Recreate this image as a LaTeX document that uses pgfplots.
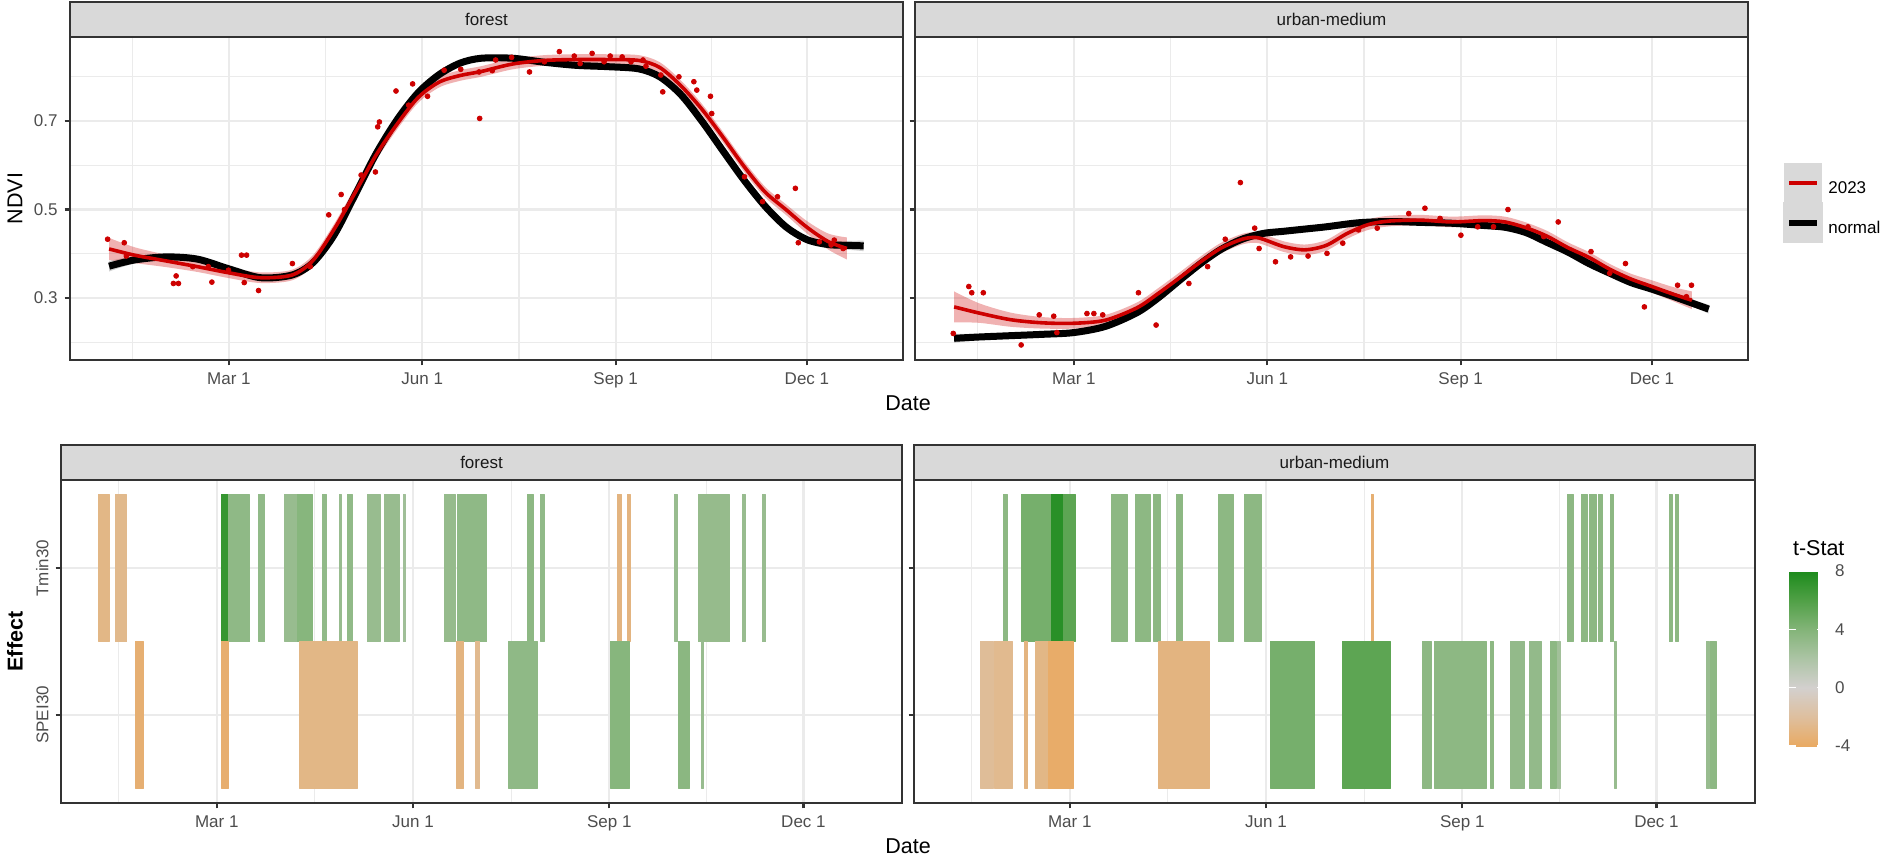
\documentclass[border=0pt]{standalone}
\usepackage{pgfplots}
\pgfplotsset{compat=1.18}
\usepgfplotslibrary{fillbetween}
\usepackage{pgfplotstable}
\usepackage{fontspec}
\setmainfont{Liberation Sans}
\definecolor{gg20}{RGB}{51,51,51}
\definecolor{gg30}{RGB}{77,77,77}
\definecolor{gg92}{RGB}{235,235,235}
\definecolor{gg85}{RGB}{217,217,217}
\definecolor{gg10}{RGB}{26,26,26}
\definecolor{ggred}{RGB}{205,0,0}
\newcommand{\tickfont}{\fontsize{8.5}{10}\selectfont}
\newcommand{\titlefont}{\fontsize{10.75}{12}\selectfont}

\pgfplotsset{
  colormap={tstat}{rgb255(0)=(233,170,99) rgb255(2)=(222,191,158) rgb255(4)=(211,208,206) rgb255(6)=(172,196,165) rgb255(8)=(131,180,120) rgb255(10)=(80,160,70) rgb255(12)=(28,139,28)},
  gg/.style={
    scale only axis, clip=false,
    axis line style={draw=gg20, line width=1.1pt},
    grid=both,
    major grid style={draw=gg92, line width=1.1pt},
    minor grid style={draw=gg92, line width=0.55pt},
    tick pos=left, tick align=outside,
    major tick style={draw=gg20, line width=1.1pt},
    major tick length=2.7pt, minor tick length=0pt,
    tick label style={font=\tickfont, text=gg30},
    xtick={60,152,244,335}, xticklabels={Mar 1,Jun 1,Sep 1,Dec 1},
    minor xtick={14,106,198,289.5},
  },
  ggtop/.style={gg, width=416.5pt, height=161.5pt, xmin=-15.6, xmax=380.7, ymin=0.16, ymax=0.89,
    ytick={0.3,0.5,0.7}, yticklabels={0.3,0.5,0.7}, minor ytick={0.2,0.4,0.6,0.8}},
  ggbot/.style={gg, width=420.5pt, height=161.5pt, xmin=-13, xmax=381.2, ymin=0.4, ymax=2.6,
    ytick={1,2}, yticklabels={SPEI30,Tmin30}, yticklabel style={rotate=90, anchor=south},
    colormap name=tstat, point meta min=-4, point meta max=8},
  tiles/.style={patch, patch type=rectangle, shader=flat corner, point meta=\thisrow{t}, forget plot},
}

% ---------- top panels: fitted curves (d = day of year, v = fit, s = half ribbon) ----------
\pgfplotstableread{
d v s
3 .372 .012
15 .386 .008
30 .393 .006
45 .388 .006
60 .366 .006
75 .346 .006
90 .352 .006
100 .380 .006
110 .442 .006
120 .533 .006
130 .626 .006
140 .703 .006
150 .764 .006
160 .805 .006
170 .831 .006
180 .842 .006
195 .842 .006
210 .833 .006
225 .826 .006
240 .823 .006
255 .818 .006
265 .800 .006
275 .760 .006
285 .700 .006
295 .633 .006
305 .567 .006
315 .508 .006
325 .461 .006
335 .432 .006
345 .421 .008
355 .419 .010
362 .418 .012
}\forestN
\pgfplotstableread{
d v s
3 .411 .025
15 .397 .018
30 .384 .014
45 .371 .012
60 .357 .012
75 .346 .012
90 .352 .012
100 .385 .012
110 .455 .012
120 .538 .012
130 .623 .012
140 .693 .012
150 .753 .012
160 .788 .012
170 .803 .012
180 .812 .012
195 .829 .012
210 .837 .012
225 .839 .012
240 .839 .012
255 .837 .012
265 .821 .012
275 .780 .012
285 .727 .012
295 .664 .012
305 .598 .012
315 .540 .012
325 .500 .012
335 .460 .014
345 .428 .018
354 .412 .025
}\forestR
\pgfplotstableread{
d v
2.3 .433
10.2 .425
11.2 .395
34.9 .350
33.6 .333
36 .333
42.8 .371
50.2 .371
51.9 .336
59.8 .363
66 .397
68.4 .397
67.3 .335
74.1 .317
90.2 .378
98.7 .371
107.5 .488
113.4 .534
115 .500
122.9 .578
129.7 .585
130.8 .687
131.6 .698
139.5 .768
145.5 .736
147.4 .784
154.5 .756
162.4 .815
170.3 .817
179.3 .706
179 .811
185.3 .814
186.9 .838
194.5 .844
203 .811
210.1 .834
217.2 .857
224.3 .847
227.1 .830
232.8 .853
238.5 .834
241.4 .847
247.1 .845
251.3 .834
257 .838
258.4 .824
265.5 .804
266.4 .766
274.1 .800
281.2 .789
282.6 .770
289.1 .756
289.7 .717
305.3 .574
313.9 .518
321 .529
329.5 .548
330.9 .425
340.9 .427
346.5 .420
352.2 .412
348 .431
}\forestP
\pgfplotstableread{
d v s
3 .209 .010
15 .212 .007
30 .215 .006
45 .218 .006
60 .222 .006
75 .236 .006
90 .267 .006
100 .300 .006
110 .339 .006
120 .377 .006
130 .410 .006
140 .433 .006
150 .446 .006
160 .451 .006
170 .456 .006
180 .461 .006
195 .470 .006
210 .473 .006
225 .471 .006
240 .469 .006
255 .464 .006
265 .460 .006
275 .448 .006
285 .426 .006
295 .404 .006
305 .378 .006
315 .356 .006
325 .335 .006
335 .320 .006
345 .304 .007
355 .287 .008
362 .275 .010
}\urbanN
\pgfplotstableread{
d v s
3 .280 .035
15 .266 .022
30 .251 .016
45 .244 .013
60 .243 .012
75 .250 .012
90 .278 .012
100 .310 .012
110 .345 .012
120 .381 .012
130 .413 .012
140 .433 .012
146 .437 .012
150 .433 .012
160 .416 .012
170 .409 .012
180 .419 .012
190 .446 .012
200 .466 .012
210 .474 .012
225 .476 .012
240 .472 .012
255 .475 .012
265 .472 .012
275 .459 .012
285 .440 .012
295 .414 .012
305 .392 .012
315 .365 .012
325 .343 .012
335 .326 .014
345 .309 .016
354 .295 .020
}\urbanR
\pgfplotstableread{
d v
2.6 .220
10 .326
11.4 .312
16.9 .312
34.9 .194
43.5 .262
50.4 .259
51.9 .222
66.2 .265
69.5 .265
73.7 .262
90.7 .312
99.1 .239
114.7 .333
123.6 .371
132 .433
139.2 .561
146 .458
148.1 .412
155.9 .382
163.1 .393
171.4 .395
180.4 .401
187.9 .424
195.4 .454
204.3 .458
219.3 .491
227 .503
234.2 .480
244.1 .442
252.1 .461
259.6 .461
266.5 .500
276 .461
283.5 .439
290.4 .472
306 .405
314.9 .356
322.4 .378
331.4 .280
347.2 .329
353.8 .329
351.4 .303
}\urbanP

\begin{document}
\begin{tikzpicture}

% ================= top left: forest =================
\begin{axis}[ggtop, at={(35pt,248.5pt)}, anchor=south west]
  \addplot[name path=fnu, draw=none, smooth, forget plot] table[x=d, y expr=\thisrow{v}+\thisrow{s}] {\forestN};
  \addplot[name path=fnl, draw=none, smooth, forget plot] table[x=d, y expr=\thisrow{v}-\thisrow{s}] {\forestN};
  \addplot[fill=black, fill opacity=0.18, draw=none, forget plot] fill between[of=fnu and fnl];
  \addplot[black, line width=3.5pt, smooth, forget plot] table[x=d, y=v] {\forestN};
  \addplot[only marks, mark=*, mark size=1.2pt, ggred, forget plot] table[x=d, y=v] {\forestP};
  \addplot[name path=fru, draw=none, smooth, forget plot] table[x=d, y expr=\thisrow{v}+\thisrow{s}] {\forestR};
  \addplot[name path=frl, draw=none, smooth, forget plot] table[x=d, y expr=\thisrow{v}-\thisrow{s}] {\forestR};
  \addplot[fill=ggred, fill opacity=0.3, draw=none, forget plot] fill between[of=fru and frl];
  \addplot[ggred, line width=1.8pt, smooth, forget plot] table[x=d, y=v] {\forestR};
  \draw[fill=gg85, draw=gg20, line width=1.1pt] (rel axis cs:0,1) rectangle ([yshift=17.5pt]rel axis cs:1,1);
  \node[font=\tickfont, text=gg10] at ([yshift=8.75pt]rel axis cs:0.5,1) {forest};
\end{axis}

% ================= top right: urban-medium =================
\begin{axis}[ggtop, at={(457.5pt,248.5pt)}, anchor=south west,
  yticklabels={}, 
  legend style={at={(1.0417,0.609)}, anchor=north west, draw=none, fill=none, inner sep=0pt, outer sep=0pt,
    row sep=0pt, font=\tickfont, nodes={inner sep=0pt}, /tikz/every odd column/.append style={column sep=2.5pt}},
  legend cell align=left,
  legend image code/.code={
    \fill[gg85] (0pt,-5.75pt) rectangle (17.3pt,11.75pt);
    \draw[#1] (1.65pt,3pt) -- (15.65pt,3pt);
  }]
  \addplot[name path=unu, draw=none, smooth, forget plot] table[x=d, y expr=\thisrow{v}+\thisrow{s}] {\urbanN};
  \addplot[name path=unl, draw=none, smooth, forget plot] table[x=d, y expr=\thisrow{v}-\thisrow{s}] {\urbanN};
  \addplot[fill=black, fill opacity=0.18, draw=none, forget plot] fill between[of=unu and unl];
  \addplot[black, line width=3.5pt, smooth, forget plot] table[x=d, y=v] {\urbanN};
  \addplot[only marks, mark=*, mark size=1.2pt, ggred, forget plot] table[x=d, y=v] {\urbanP};
  \addplot[name path=uru, draw=none, smooth, forget plot] table[x=d, y expr=\thisrow{v}+\thisrow{s}] {\urbanR};
  \addplot[name path=url, draw=none, smooth, forget plot] table[x=d, y expr=\thisrow{v}-\thisrow{s}] {\urbanR};
  \addplot[fill=ggred, fill opacity=0.3, draw=none, forget plot] fill between[of=uru and url];
  \addplot[ggred, line width=1.8pt, smooth, forget plot] table[x=d, y=v] {\urbanR};
  \addlegendimage{ggred, line width=2pt}\addlegendentry{2023}
  \addlegendimage{black, line width=3pt}\addlegendentry{normal}
  \draw[fill=gg85, draw=gg20, line width=1.1pt] (rel axis cs:0,1) rectangle ([yshift=17.5pt]rel axis cs:1,1);
  \node[font=\tickfont, text=gg10] at ([yshift=8.75pt]rel axis cs:0.5,1) {urban-medium};
\end{axis}

% ================= bottom left: forest tiles =================
\begin{axis}[ggbot, at={(30.5pt,27pt)}, anchor=south west]
  \addplot[tiles] table[row sep=\\] {
  x y t\\
  4.6 1.5 -2.8\\ 9.7 1.5 -2.8\\ 9.7 2.5 -2.8\\ 4.6 2.5 -2.8\\
  12.5 1.5 -2.6\\ 17.8 1.5 -2.6\\ 17.8 2.5 -2.6\\ 12.5 2.5 -2.6\\
  62.3 1.5 7\\ 65.5 1.5 7\\ 65.5 2.5 7\\ 62.3 2.5 7\\
  65.5 1.5 3.4\\ 75.5 1.5 3.4\\ 75.5 2.5 3.4\\ 65.5 2.5 3.4\\
  79.7 1.5 3.3\\ 82.5 1.5 3.3\\ 82.5 2.5 3.3\\ 79.7 2.5 3.3\\
  91.8 1.5 3\\ 98 1.5 3\\ 98 2.5 3\\ 91.8 2.5 3\\
  98 1.5 3.8\\ 105 1.5 3.8\\ 105 2.5 3.8\\ 98 2.5 3.8\\
  109.5 1.5 3.3\\ 111.5 1.5 3.3\\ 111.5 2.5 3.3\\ 109.5 2.5 3.3\\
  117.4 1.5 3\\ 118.5 1.5 3\\ 118.5 2.5 3\\ 117.4 2.5 3\\
  121.3 1.5 3.3\\ 123.6 1.5 3.3\\ 123.6 2.5 3.3\\ 121.3 2.5 3.3\\
  130.6 1.5 3\\ 136.5 1.5 3\\ 136.5 2.5 3\\ 130.6 2.5 3\\
  138.5 1.5 3\\ 145.5 1.5 3\\ 145.5 2.5 3\\ 138.5 2.5 3\\
  147.5 1.5 2.6\\ 148.6 1.5 2.6\\ 148.6 2.5 2.6\\ 147.5 2.5 2.6\\
  166.6 1.5 3.1\\ 171.9 1.5 3.1\\ 171.9 2.5 3.1\\ 166.6 2.5 3.1\\
  173 1.5 3.4\\ 186.5 1.5 3.4\\ 186.5 2.5 3.4\\ 173 2.5 3.4\\
  205.7 1.5 3.5\\ 208.2 1.5 3.5\\ 208.2 2.5 3.5\\ 205.7 2.5 3.5\\
  211.9 1.5 3.3\\ 213.6 1.5 3.3\\ 213.6 2.5 3.3\\ 211.9 2.5 3.3\\
  247.9 1.5 -3\\ 249.5 1.5 -3\\ 249.5 2.5 -3\\ 247.9 2.5 -3\\
  252.4 1.5 -3\\ 253.8 1.5 -3\\ 253.8 2.5 -3\\ 252.4 2.5 -3\\
  274.6 1.5 3\\ 275.7 1.5 3\\ 275.7 2.5 3\\ 274.6 2.5 3\\
  285.8 1.5 3.1\\ 300.4 1.5 3.1\\ 300.4 2.5 3.1\\ 285.8 2.5 3.1\\
  306.3 1.5 3\\ 307.7 1.5 3\\ 307.7 2.5 3\\ 306.3 2.5 3\\
  315.6 1.5 3\\ 317.3 1.5 3\\ 317.3 2.5 3\\ 315.6 2.5 3\\
  22.1 0.5 -3.5\\ 25.7 0.5 -3.5\\ 25.7 1.5 -3.5\\ 22.1 1.5 -3.5\\
  62 0.5 -3.6\\ 65.6 0.5 -3.6\\ 65.6 1.5 -3.6\\ 62 1.5 -3.6\\
  98.8 0.5 -2.8\\ 126.1 0.5 -2.8\\ 126.1 1.5 -2.8\\ 98.8 1.5 -2.8\\
  172.5 0.5 -3\\ 175.6 0.5 -3\\ 175.6 1.5 -3\\ 172.5 1.5 -3\\
  181.2 0.5 -2.5\\ 182.9 0.5 -2.5\\ 182.9 1.5 -2.5\\ 181.2 1.5 -2.5\\
  196.7 0.5 3.4\\ 210.5 0.5 3.4\\ 210.5 1.5 3.4\\ 196.7 1.5 3.4\\
  244.5 0.5 3.8\\ 253.5 0.5 3.8\\ 253.5 1.5 3.8\\ 244.5 1.5 3.8\\
  276.6 0.5 3.6\\ 281.6 0.5 3.6\\ 281.6 1.5 3.6\\ 276.6 1.5 3.6\\
  287.2 0.5 3\\ 288.3 0.5 3\\ 288.3 1.5 3\\ 287.2 1.5 3\\
  };
  \draw[fill=gg85, draw=gg20, line width=1.1pt] (rel axis cs:0,1) rectangle ([yshift=17.5pt]rel axis cs:1,1);
  \node[font=\tickfont, text=gg10] at ([yshift=8.75pt]rel axis cs:0.5,1) {forest};
\end{axis}

% ================= bottom right: urban-medium tiles =================
\begin{axis}[ggbot, at={(457pt,27pt)}, anchor=south west, yticklabels={},
  colorbar,
  colorbar style={at={(parent axis.south east)}, anchor=south west, xshift=8.5pt, yshift=28.5pt,
    scale only axis, width=17.5pt, height=87.5pt,
    ytick={-4,0,4,8}, yticklabels={-4,0,4,8}, ytick pos=both, yticklabel pos=right,
    tick align=inside, major tick length=3.5pt, major tick style={draw=white, line width=0.7pt},
    axis line style={draw=none},
    yticklabel style={font=\tickfont, text=gg30, xshift=2pt}}]
  \addplot[tiles] table[row sep=\\] {
  x y t\\
  29.1 1.5 3.5\\ 30.6 1.5 3.5\\ 30.6 2.5 3.5\\ 29.1 2.5 3.5\\
  37.4 1.5 4.5\\ 51.2 1.5 4.5\\ 51.2 2.5 4.5\\ 37.4 2.5 4.5\\
  51.2 1.5 7.5\\ 57 1.5 7.5\\ 57 2.5 7.5\\ 51.2 2.5 7.5\\
  57 1.5 5.5\\ 62.6 1.5 5.5\\ 62.6 2.5 5.5\\ 57 2.5 5.5\\
  79.7 1.5 3.5\\ 87 1.5 3.5\\ 87 2.5 3.5\\ 79.7 2.5 3.5\\
  90.9 1.5 3.5\\ 97.6 1.5 3.5\\ 97.6 2.5 3.5\\ 90.9 2.5 3.5\\
  99.4 1.5 3.5\\ 102.6 1.5 3.5\\ 102.6 2.5 3.5\\ 99.4 2.5 3.5\\
  110 1.5 3.5\\ 112.9 1.5 3.5\\ 112.9 2.5 3.5\\ 110 2.5 3.5\\
  129.7 1.5 3.5\\ 136.7 1.5 3.5\\ 136.7 2.5 3.5\\ 129.7 2.5 3.5\\
  142 1.5 3.5\\ 149.7 1.5 3.5\\ 149.7 2.5 3.5\\ 142 2.5 3.5\\
  201.2 1.5 -3.5\\ 202.2 1.5 -3.5\\ 202.2 2.5 -3.5\\ 201.2 2.5 -3.5\\
  293.2 1.5 3.5\\ 296.1 1.5 3.5\\ 296.1 2.5 3.5\\ 293.2 2.5 3.5\\
  299.6 1.5 3.5\\ 302.6 1.5 3.5\\ 302.6 2.5 3.5\\ 299.6 2.5 3.5\\
  303.5 1.5 3.5\\ 307 1.5 3.5\\ 307 2.5 3.5\\ 303.5 2.5 3.5\\
  307.9 1.5 3.5\\ 309.7 1.5 3.5\\ 309.7 2.5 3.5\\ 307.9 2.5 3.5\\
  313.2 1.5 3.5\\ 314.6 1.5 3.5\\ 314.6 2.5 3.5\\ 313.2 2.5 3.5\\
  341.1 1.5 3.5\\ 342.3 1.5 3.5\\ 342.3 2.5 3.5\\ 341.1 2.5 3.5\\
  344.1 1.5 3.5\\ 345.3 1.5 3.5\\ 345.3 2.5 3.5\\ 344.1 2.5 3.5\\
  17.9 0.5 -2.2\\ 24.1 0.5 -2.2\\ 24.1 1.5 -2.2\\ 17.9 1.5 -2.2\\
  24.7 0.5 -2.5\\ 32.9 0.5 -2.5\\ 32.9 1.5 -2.5\\ 24.7 1.5 -2.5\\
  38.8 0.5 -3\\ 40.3 0.5 -3\\ 40.3 1.5 -3\\ 38.8 1.5 -3\\
  44.1 0.5 -2.8\\ 50 0.5 -2.8\\ 50 1.5 -2.8\\ 44.1 1.5 -2.8\\
  50 0.5 -3.8\\ 61.8 0.5 -3.8\\ 61.8 1.5 -3.8\\ 50 1.5 -3.8\\
  101.7 0.5 -3\\ 125.6 0.5 -3\\ 125.6 1.5 -3\\ 101.7 1.5 -3\\
  154.1 0.5 4.5\\ 174.7 0.5 4.5\\ 174.7 1.5 4.5\\ 154.1 1.5 4.5\\
  187.6 0.5 5.5\\ 210.5 0.5 5.5\\ 210.5 1.5 5.5\\ 187.6 1.5 5.5\\
  225.5 0.5 3.5\\ 229.4 0.5 3.5\\ 229.4 1.5 3.5\\ 225.5 1.5 3.5\\
  231.1 0.5 3.5\\ 255.5 0.5 3.5\\ 255.5 1.5 3.5\\ 231.1 1.5 3.5\\
  257 0.5 3.5\\ 258.8 0.5 3.5\\ 258.8 1.5 3.5\\ 257 1.5 3.5\\
  266.4 0.5 3.2\\ 273.2 0.5 3.2\\ 273.2 1.5 3.2\\ 266.4 1.5 3.2\\
  275.5 0.5 3.2\\ 281.1 0.5 3.2\\ 281.1 1.5 3.2\\ 275.5 1.5 3.2\\
  285.5 0.5 3.5\\ 287.9 0.5 3.5\\ 287.9 1.5 3.5\\ 285.5 1.5 3.5\\
  288.5 0.5 2.5\\ 290.2 0.5 2.5\\ 290.2 1.5 2.5\\ 288.5 1.5 2.5\\
  315.2 0.5 3\\ 316.4 0.5 3\\ 316.4 1.5 3\\ 315.2 1.5 3\\
  358.6 0.5 3\\ 359.8 0.5 3\\ 359.8 1.5 3\\ 358.6 1.5 3\\
  360.4 0.5 3.5\\ 363 0.5 3.5\\ 363 1.5 3.5\\ 360.4 1.5 3.5\\
  };
  \draw[fill=gg85, draw=gg20, line width=1.1pt] (rel axis cs:0,1) rectangle ([yshift=17.5pt]rel axis cs:1,1);
  \node[font=\tickfont, text=gg10] at ([yshift=8.75pt]rel axis cs:0.5,1) {urban-medium};
\end{axis}

% axis titles
\node[font=\titlefont] at (454pt,227pt) {Date};
\node[font=\titlefont] at (454pt,5.5pt) {Date};
\node[font=\titlefont, rotate=90] at (7.5pt,329.25pt) {NDVI};
\node[font=\titlefont\bfseries, rotate=90] at (7.5pt,107.75pt) {Effect};
\node[font=\titlefont, anchor=west] at (893pt,154.5pt) {t-Stat};

\pgfresetboundingbox
\path (0,0) rectangle (942pt,428.5pt);
\end{tikzpicture}
\end{document}
